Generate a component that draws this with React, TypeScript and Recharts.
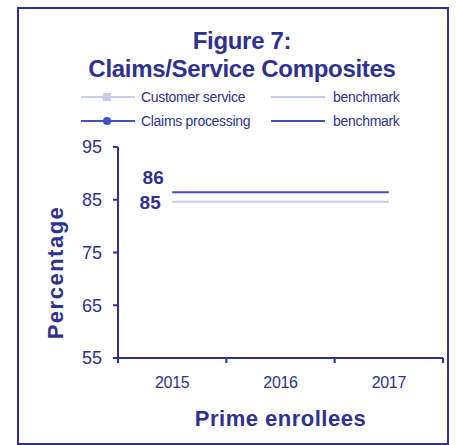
import React from "react";
import {
  ComposedChart,
  Line,
  XAxis,
  YAxis,
  Legend,
  LabelList,
} from "recharts";

const NAVY = "#2E3192";
const DARK = "#3F51C4";
const LIGHT = "#C8CDEC";

const years = ["2015", "2016", "2017"];
const customerService: (number | null)[] = [null, null, null];
const claimsProcessing: (number | null)[] = [null, null, null];
const customerBenchmark = [84.6, 84.6, 84.6];
const claimsBenchmark = [86.4, 86.4, 86.4];
const yTicks = [55, 65, 75, 85, 95];

const data = years.map((y, i) => ({
  year: y,
  cs: customerService[i],
  csBench: customerBenchmark[i],
  cp: claimsProcessing[i],
  cpBench: claimsBenchmark[i],
}));

const font = "Arial, 'Liberation Sans', sans-serif";

function XTick(props: any) {
  const { x, y, payload, index } = props;
  const off = payload.offset || 0;
  return (
    <g>
      {index === 0 && (
        <line x1={x - off} x2={x - off} y1={y - 8} y2={y - 3} stroke={NAVY} strokeWidth={2} />
      )}
      <line x1={x + off} x2={x + off} y1={y - 8} y2={y - 3} stroke={NAVY} strokeWidth={2} />
      <text
        x={x}
        y={y + 16}
        textAnchor="middle"
        dominantBaseline="central"
        fill={NAVY}
        fontSize={16}
        fontFamily={font}
        letterSpacing={-0.3}
      >
        {payload.value}
      </text>
    </g>
  );
}

function firstLabel(dx: number, dy: number) {
  return (props: any) => {
    const { x, y, value, index } = props;
    if (index !== 0) return null;
    return (
      <text
        x={x + dx}
        y={y + dy}
        textAnchor="middle"
        dominantBaseline="central"
        fill={NAVY}
        fontSize={19}
        fontWeight="bold"
        fontFamily={font}
      >
        {Math.round(value)}
      </text>
    );
  };
}

function YLabel(props: any) {
  const vb = props.viewBox || {};
  const cx = vb.x - 3;
  const cy = vb.y + vb.height / 2 + 20;
  return (
    <text
      x={cx}
      y={cy}
      transform={`rotate(-90 ${cx} ${cy})`}
      textAnchor="middle"
      dominantBaseline="central"
      fill={NAVY}
      fontSize={22}
      fontWeight="bold"
      fontFamily={font}
      letterSpacing={1.5}
    >
      Percentage
    </text>
  );
}

function LegendBox(props: any) {
  const payload: any[] = props.payload || [];
  const order = ["cs", "csBench", "cp", "cpBench"];
  const items = order
    .map((k) => payload.find((p) => p.dataKey === k))
    .filter(Boolean);
  return (
    <div style={{ position: "relative", width: 456, height: 50, fontFamily: font }}>
      {items.map((it: any, i: number) => {
        const col = i % 2;
        const row = Math.floor(i / 2);
        const left = col === 0 ? 81 : 271;
        const top = row === 0 ? 12 : 36;
        const marker = it.dataKey === "cs" ? "square" : it.dataKey === "cp" ? "circle" : null;
        return (
          <div key={it.dataKey} style={{ position: "absolute", left, top: top - 8, height: 16 }}>
            <svg width={54} height={16} style={{ position: "absolute", left: 0, top: 0 }}>
              <line x1={0} x2={54} y1={8} y2={8} stroke={it.color} strokeWidth={2} />
              {marker === "square" && <rect x={22} y={4} width={8} height={8} fill={it.color} />}
              {marker === "circle" && <circle cx={26} cy={8} r={4} fill={it.color} />}
            </svg>
            <span
              style={{
                position: "absolute",
                left: col === 0 ? 60 : 62,
                top: -1,
                whiteSpace: "nowrap",
                color: NAVY,
                fontSize: 14,
                letterSpacing: -0.3,
                lineHeight: "18px",
              }}
            >
              {it.value}
            </span>
          </div>
        );
      })}
    </div>
  );
}

export default function App() {
  return (
    <div style={{ position: "absolute", left: 0, top: 0, width: 456, height: 445, background: "#fff" }}>
      <div
        style={{
          position: "absolute",
          left: 17,
          top: 7,
          width: 428,
          height: 434,
          border: `2px solid ${NAVY}`,
        }}
      />
      <div
        style={{
          position: "absolute",
          left: 0,
          top: 27,
          width: 484,
          textAlign: "center",
          fontFamily: font,
          fontWeight: "bold",
          fontSize: 24,
          lineHeight: "28px",
          color: NAVY,
          letterSpacing: -0.3,
        }}
      >
        Figure 7:
        <br />
        Claims/Service Composites
      </div>
      <div style={{ position: "absolute", left: 0, top: 0 }}>
        <ComposedChart
          width={456}
          height={445}
          data={data}
          margin={{ top: 147, right: 13, bottom: 57, left: 58 }}
        >
          <XAxis
            dataKey="year"
            scale="band"
            axisLine={{ stroke: NAVY, strokeWidth: 2 }}
            tickLine={false}
            tick={<XTick />}
            interval={0}
            height={30}
            label={{
              value: "Prime enrollees",
              position: "insideBottom",
              offset: -38,
              fill: NAVY,
              fontSize: 22,
              fontWeight: "bold",
              fontFamily: font,
              letterSpacing: 0.5,
            }}
          />
          <YAxis
            width={60}
            domain={[55, 95]}
            ticks={yTicks}
            interval={0}
            axisLine={{ stroke: NAVY, strokeWidth: 2 }}
            tickLine={{ stroke: NAVY, strokeWidth: 2 }}
            tickSize={5}
            tickMargin={11}
            tick={{ fill: NAVY, fontSize: 18, fontFamily: font }}
            label={<YLabel />}
          />
          <Legend
            layout="horizontal"
            verticalAlign="middle"
            align="center"
            wrapperStyle={{ top: 85, left: 0, width: 456 }}
            content={<LegendBox />}
          />
          <Line
            dataKey="cs"
            name="Customer service"
            stroke={LIGHT}
            fill={LIGHT}
            strokeWidth={2}
            isAnimationActive={false}
          />
          <Line
            dataKey="csBench"
            name="benchmark"
            stroke={LIGHT}
            strokeWidth={2}
            dot={false}
            isAnimationActive={false}
          >
            <LabelList dataKey="csBench" content={firstLabel(-22, 1)} />
          </Line>
          <Line
            dataKey="cp"
            name="Claims processing"
            stroke={DARK}
            fill={DARK}
            strokeWidth={2}
            isAnimationActive={false}
          />
          <Line
            dataKey="cpBench"
            name="benchmark"
            stroke={DARK}
            strokeWidth={2}
            dot={false}
            isAnimationActive={false}
          >
            <LabelList dataKey="cpBench" content={firstLabel(-19, -15)} />
          </Line>
        </ComposedChart>
      </div>
    </div>
  );
}
